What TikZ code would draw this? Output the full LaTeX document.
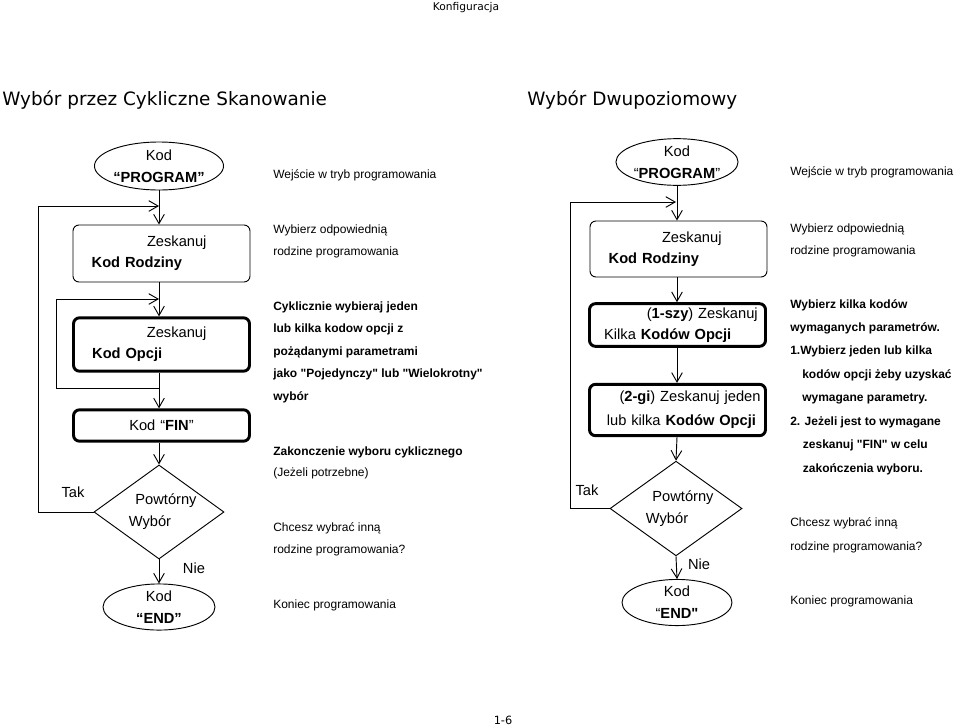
\documentclass[tikz,border=0pt]{standalone}
\usepackage{fontspec}
\setmainfont{Liberation Sans}[Ligatures = TeXOff]
\newfontfamily\titlefont{DejaVu Sans}
\usetikzlibrary{shapes.geometric, arrows.meta}

\begin{document}
\begin{tikzpicture}[x = 0.75pt, y = -0.75pt,
	arr/.style = {-{Straight Barb[length = 7pt, width = 8pt]}, line width = 0.7pt},
	term/.style = {draw, ellipse, line width = 0.7pt, inner sep = 0pt, align = center, font = \fontsize{11}{16.5}\selectfont},
	scanbox/.style = {draw, rectangle, rounded corners = 4.5pt, line width = 0.7pt, inner xsep = 0pt, inner ysep = 0pt, text width = 132.75pt, align = left, font = \fontsize{11}{16}\selectfont},
	optbox/.style = {scanbox, line width = 2.2pt, text width = 132pt},
	ask/.style = {draw, diamond, line width = 0.7pt, inner sep = 0pt, align = center, font = \fontsize{11}{16.5}\selectfont},
	note/.style = {anchor = west, align = left, inner sep = 0pt, font = \fontsize{9}{16.5}\selectfont},
	lbl/.style = {inner sep = 0pt, font = \fontsize{11}{13}\selectfont},
	title/.style = {anchor = west, inner sep = 0pt, font = \titlefont\fontsize{13.8}{16}\selectfont}]
	\useasboundingbox (0, 0) rectangle (960, 725);

	\node[inner sep = 0pt, font = \titlefont\fontsize{8}{10}\selectfont] (naglowek) at (466, 8) {Konfiguracja};
	\node[inner sep = 0pt, font = \titlefont\fontsize{8.5}{10}\selectfont] (strona) at (503, 720) {1-6};
	\node[title] (tytulL) at (2, 100) {Wybór przez Cykliczne Skanowanie};
	\node[title] (tytulR) at (527, 100) {Wybór Dwupoziomowy};

	% cykliczne skanowanie
	\node[term, minimum width = 84pt, minimum height = 36pt] (progL) at (159, 166) {Kod\\\textbf{“PROGRAM”}};
	\node[scanbox, minimum height = 42.75pt] (rodzL) at (161.5, 253.5) {\hspace*{55.5pt}Zeskanuj\\\hspace*{14pt}\textbf{Kod Rodziny}};
	\node[optbox, minimum height = 40pt] (opcjeL) at (161.5, 344.5) {\hspace*{55pt}Zeskanuj\\\hspace*{14pt}\textbf{Kod Opcji}};
	\node[optbox, minimum height = 23.5pt, align = center] (finL) at (161.5, 425.5) {Kod “\textbf{FIN}”};
	\node[ask, aspect = 1.38, minimum width = 97.5pt, minimum height = 70.5pt] (askL) at (159, 512) {\hspace*{10.5pt}Powtórny\\Wybór\hspace*{13.5pt}};
	\node[term, minimum width = 84pt, minimum height = 34.5pt] (endL) at (159, 607) {Kod\\\textbf{“END”}};
	\node[lbl] (takL) at (73, 492) {Tak};
	\node[lbl] (nieL) at (194, 568) {Nie};

	\coordinate (inL) at (159, 206);
	\coordinate (in2L) at (159, 299);
	\coordinate (outL) at (159, 388);
	\draw[arr] (progL.south) -- (progL.south |- rodzL.north);
	\draw[arr] (progL.south |- rodzL.south) -- (progL.south |- opcjeL.north);
	\draw[arr] (progL.south |- opcjeL.south) -- (progL.south |- finL.north);
	\draw[arr] (progL.south |- finL.south) -- (askL.north);
	\draw[arr] (askL.south) -- (endL.north);
	\draw[arr] (outL) -- ++(-103, 0) |- (in2L);
	\draw[arr] (askL.west) -- ++(-55, 0) |- (inL);

	\node[note] (opisL1) at (273, 175) {Wejście w tryb programowania};
	\node[note] (opisL2) at (273, 241) {Wybierz odpowiednią\\rodzine programowania};
	\node[note, font = \fontsize{9}{16.9}\selectfont\bfseries] (opisL3) at (273, 352) {Cyklicznie wybieraj jeden\\lub kilka kodow opcji z\\pożądanymi parametrami\\jako "Pojedynczy" lub "Wielokrotny"\\wybór};
	\node[note, font = \fontsize{9}{15.8}\selectfont] (opisL4) at (273, 462.5) {\textbf{Zakonczenie wyboru cyklicznego}\\(Jeżeli potrzebne)};
	\node[note] (opisL5) at (273, 539) {Chcesz wybrać inną\\rodzine programowania?};
	\node[note] (opisL6) at (273, 605) {Koniec programowania};

	% dwupoziomowy
	\node[term, minimum width = 84pt, minimum height = 35pt] (progR) at (677, 162) {Kod\\“\textbf{PROGRAM}”};
	\node[scanbox, minimum height = 42pt] (rodzR) at (678.5, 249) {\hspace*{54pt}Zeskanuj\\\hspace*{14pt}\textbf{Kod Rodziny}};
	\node[optbox, minimum height = 32pt] (kilkaR) at (677.5, 325) {\hspace*{43pt}(\textbf{1-szy}) Zeskanuj\\\hspace*{11pt}Kilka \textbf{Kodów Opcji}};
	\node[optbox, minimum height = 38.5pt, font = \fontsize{11}{18}\selectfont] (jedenR) at (677.5, 410) {\hspace*{22.5pt}(\textbf{2-gi}) Zeskanuj jeden\\\hspace*{13pt}lub kilka \textbf{Kodów Opcji}};
	\node[ask, aspect = 1.39, minimum width = 99pt, minimum height = 71pt] (askR) at (676, 508.5) {\hspace*{10.5pt}Powtórny\\Wybór\hspace*{13.5pt}};
	\node[term, minimum width = 82.5pt, minimum height = 34pt] (endR) at (677, 602.5) {Kod\\“\textbf{END"}};
	\node[lbl] (takR) at (587, 490) {Tak};
	\node[lbl] (nieR) at (699, 564) {Nie};

	\coordinate (inR) at (676, 202);
	\draw[arr] (progR.south) -- (progR.south |- rodzR.north);
	\draw[arr] (progR.south |- rodzR.south) -- (progR.south |- kilkaR.north);
	\draw[arr] (progR.south |- kilkaR.south) -- (progR.south |- jedenR.north);
	\draw[arr] (progR.south |- jedenR.south) -- (askR.north);
	\draw[arr] (askR.south) -- (endR.north);
	\draw[arr] (askR.west) -- ++(-39, 0) |- (inR);

	\node[note] (opisR1) at (790, 172) {Wejście w tryb programowania};
	\node[note] (opisR2) at (790, 240) {Wybierz odpowiednią\\rodzine programowania};
	\node[note, font = \fontsize{9}{17.6}\selectfont\bfseries] (opisR3) at (790, 387) {Wybierz kilka kodów\\wymaganych parametrów.\\1.Wybierz jeden lub kilka\\\hspace*{9pt}kodów opcji żeby uzyskać\\\hspace*{9pt}wymagane parametry.\\2. Jeżeli jest to wymagane\\\hspace*{9.5pt}zeskanuj "FIN" w celu\\\hspace*{9.5pt}zakończenia wyboru.};
	\node[note, font = \fontsize{9}{18}\selectfont] (opisR4) at (790, 535) {Chcesz wybrać inną\\rodzine programowania?};
	\node[note] (opisR5) at (790, 601) {Koniec programowania};
\end{tikzpicture}
\end{document}
